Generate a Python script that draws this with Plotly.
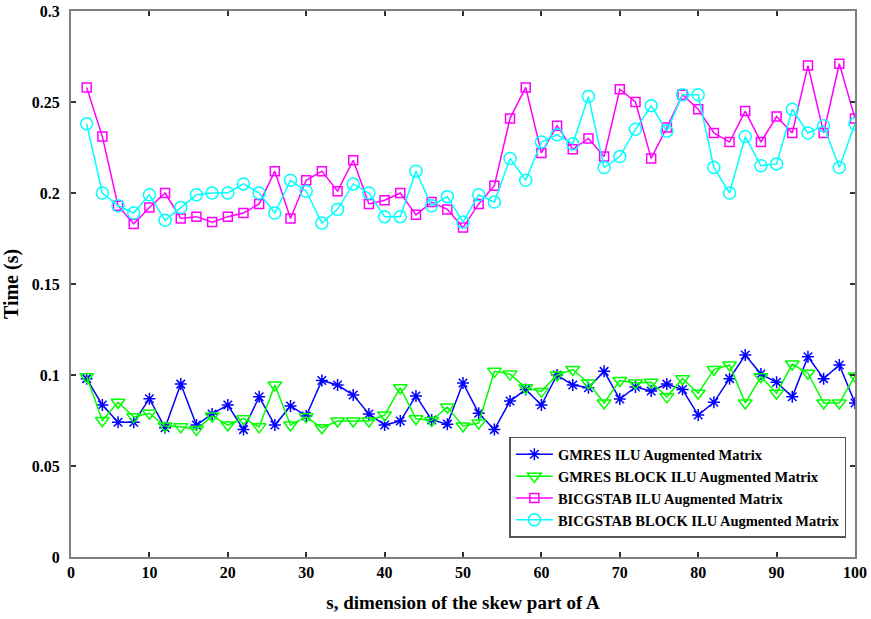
import plotly.graph_objects as go

s_values = list(range(2, 101, 2))

gmres_ilu = [0.098, 0.0835, 0.074, 0.074, 0.087, 0.071, 0.095, 0.0725, 0.0786, 0.0835,
             0.070, 0.088, 0.0725, 0.083, 0.0775, 0.097, 0.0945, 0.089, 0.0786, 0.0725,
             0.0747, 0.0885, 0.0753, 0.073, 0.0956, 0.079, 0.070, 0.0857, 0.092, 0.0835,
             0.100, 0.0945, 0.093, 0.102, 0.0868, 0.0934, 0.0912, 0.095, 0.092, 0.078,
             0.085, 0.098, 0.111, 0.1005, 0.096, 0.088, 0.110, 0.098, 0.1055, 0.0846]

gmres_block = [0.099, 0.075, 0.085, 0.077, 0.079, 0.072, 0.0715, 0.070, 0.0775, 0.0725,
               0.076, 0.0715, 0.0945, 0.0725, 0.077, 0.071, 0.0747, 0.0747, 0.0747, 0.078,
               0.093, 0.076, 0.075, 0.0824, 0.072, 0.0736, 0.102, 0.1005, 0.093, 0.091,
               0.100, 0.103, 0.0956, 0.0846, 0.097, 0.0956, 0.096, 0.088, 0.098, 0.090,
               0.103, 0.1055, 0.0846, 0.099, 0.090, 0.106, 0.101, 0.0846, 0.0846, 0.0995]

bicg_ilu = [0.258, 0.231, 0.193, 0.183, 0.192, 0.200, 0.186, 0.187, 0.184, 0.187,
            0.189, 0.194, 0.212, 0.186, 0.207, 0.212, 0.201, 0.218, 0.194, 0.196,
            0.200, 0.188, 0.195, 0.191, 0.181, 0.194, 0.204, 0.241, 0.258, 0.222,
            0.237, 0.224, 0.230, 0.220, 0.257, 0.250, 0.219, 0.236, 0.254, 0.246,
            0.233, 0.228, 0.245, 0.228, 0.242, 0.233, 0.270, 0.233, 0.271, 0.241]

bicg_block = [0.238, 0.200, 0.193, 0.189, 0.199, 0.185, 0.192, 0.199, 0.200, 0.200,
              0.205, 0.200, 0.189, 0.207, 0.201, 0.1835, 0.191, 0.205, 0.200, 0.187,
              0.187, 0.212, 0.193, 0.198, 0.184, 0.199, 0.195, 0.219, 0.207, 0.228,
              0.232, 0.227, 0.253, 0.214, 0.220, 0.235, 0.248, 0.234, 0.254, 0.254,
              0.214, 0.200, 0.231, 0.215, 0.216, 0.246, 0.233, 0.237, 0.214, 0.238]

x_ticks = [0, 10, 20, 30, 40, 50, 60, 70, 80, 90, 100]
x_tick_labels = ["0", "10", "20", "30", "40", "50", "60", "70", "80", "90", "100"]
y_ticks = [0, 0.05, 0.1, 0.15, 0.2, 0.25, 0.3]
y_tick_labels = ["0", "0.05", "0.1", "0.15", "0.2", "0.25", "0.3"]

FONT = "Liberation Serif"

series = [
    ("GMRES ILU Augmented Matrix", gmres_ilu, "#0000FF", "asterisk-open", 10),
    ("GMRES BLOCK ILU Augmented Matrix", gmres_block, "#00FF00", "triangle-down-open", 12),
    ("BICGSTAB ILU Augmented Matrix", bicg_ilu, "#FF00FF", "square-open", 9),
    ("BICGSTAB BLOCK ILU Augmented Matrix", bicg_block, "#00FFFF", "circle-open", 12),
]

fig = go.Figure()
for name, vals, color, sym, size in series:
    fig.add_trace(go.Scatter(
        x=s_values, y=vals, name=name, mode="lines+markers",
        line=dict(color=color, width=1.5),
        marker=dict(symbol=sym, size=size, color=color, line=dict(color=color, width=1.5)),
    ))

axis_common = dict(
    showline=True, linecolor="#808080", linewidth=2, mirror="ticks",
    ticks="inside", ticklen=5, tickcolor="#333333", tickwidth=1.5,
    showgrid=False, zeroline=False, automargin=False,
    tickfont=dict(family=FONT, size=16, color="black", weight="bold"),
)

fig.update_layout(
    width=871, height=619,
    margin=dict(l=71, r=16, t=11, b=62),
    paper_bgcolor="white", plot_bgcolor="white",
    font=dict(family=FONT, color="black"),
    xaxis=dict(range=[0, 100], tickvals=x_ticks,
               ticktext=["<b>" + t + "</b>" for t in x_tick_labels],
               title=dict(text="s, dimension of the skew part of A",
                          font=dict(family=FONT, size=19, weight="bold")),
               **axis_common),
    yaxis=dict(range=[0, 0.3], tickvals=y_ticks,
               ticktext=["<b>" + t + "</b>" for t in y_tick_labels],
               ticklabelstandoff=6,
               title=dict(text="Time (s)", font=dict(family=FONT, size=20, weight="bold")),
               **axis_common),
    legend=dict(
        x=0.989, y=0.035, xanchor="right", yanchor="bottom",
        bgcolor="white", bordercolor="#555555", borderwidth=1.5,
        font=dict(family=FONT, size=14.5, color="black", weight="bold"),
        tracegroupgap=0, itemwidth=37,
    ),
)

fig.write_html("out.html")
